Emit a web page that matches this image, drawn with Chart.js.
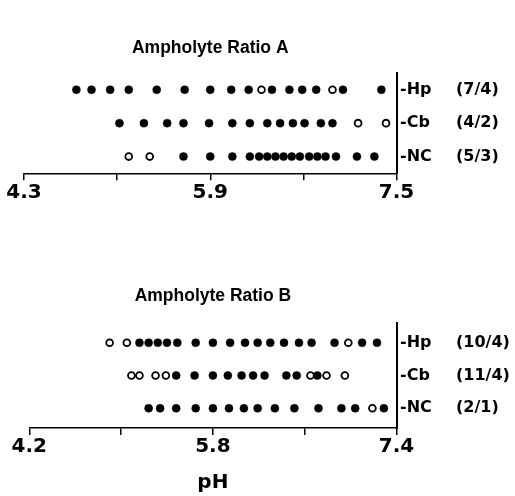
<!DOCTYPE html>
<html>
<head>
<meta charset="utf-8">
<script src="https://cdn.jsdelivr.net/npm/chart.js@4.4.0/dist/chart.umd.min.js"></script>
<style>
    body { margin: 0; background: #fff; }
    #wrap { position: relative; width: 515px; height: 496px; }
    canvas { position: absolute; left: 0; }
</style>
</head>
<body>
<div id="wrap">
    <canvas id="chartA" width="515" height="248" style="top:0px"></canvas>
    <canvas id="chartB" width="515" height="248" style="top:248px"></canvas>
</div>
<script>
//rows go bottom -> top
const rowNames = ['NC', 'Cb', 'Hp'];

//pH axis ticks
const ticksA = [4.3, 5.1, 5.9, 6.7, 7.5];
const tickLabelsA = ['4.3', '', '5.9', '', '7.5'];
const ticksB = [4.2, 5.0, 5.8, 6.6, 7.4];
const tickLabelsB = ['4.2', '', '5.8', '', '7.4'];

//ratios printed right of each row (NC, Cb, Hp)
const ratiosA = ['(5/3)', '(4/2)', '(7/4)'];
const ratiosB = ['(2/1)', '(11/4)', '(10/4)'];

//Ampholyte Ratio A - pH of bands, filled and open circles
const hpFilledA = [4.75, 4.88, 5.04, 5.20, 5.44, 5.68, 5.90, 6.08, 6.23, 6.43, 6.58, 6.69, 6.81, 7.04, 7.37];
const hpOpenA = [6.34, 6.95];
const cbFilledA = [5.12, 5.33, 5.53, 5.67, 5.89, 6.09, 6.24, 6.39, 6.50, 6.61, 6.71, 6.85, 6.95];
const cbOpenA = [7.17, 7.41];
const ncFilledA = [5.67, 5.90, 6.09, 6.24, 6.32, 6.39, 6.46, 6.53, 6.60, 6.67, 6.75, 6.82, 6.89, 6.98, 7.16, 7.31];
const ncOpenA = [5.20, 5.38];

//Ampholyte Ratio B
const hpFilledB = [5.16, 5.24, 5.32, 5.40, 5.49, 5.65, 5.80, 5.95, 6.08, 6.19, 6.30, 6.42, 6.55, 6.66, 6.86, 7.10, 7.23];
const hpOpenB = [4.90, 5.05, 6.98];
const cbFilledB = [5.48, 5.64, 5.80, 5.93, 6.05, 6.15, 6.25, 6.44, 6.53, 6.71];
const cbOpenB = [5.09, 5.16, 5.30, 5.39, 6.65, 6.79, 6.95];
const ncFilledB = [5.24, 5.34, 5.48, 5.65, 5.80, 5.94, 6.07, 6.19, 6.34, 6.51, 6.72, 6.92, 7.04, 7.29];
const ncOpenB = [7.19];

Chart.defaults.font.family = '"DejaVu Sans", sans-serif';
Chart.defaults.color = '#000';

BuildChart('chartA',
{
    title: 'Ampholyte Ratio A',
    filled: [ncFilledA, cbFilledA, hpFilledA],
    open: [ncOpenA, cbOpenA, hpOpenA],
    ticks: ticksA,
    tickLabels: tickLabelsA,
    ratios: ratiosA,
    yMin: -0.5,
    yMax: 2.5,
    left: 24,
    top: 73,
    axisHeight: 74.7,
    showAxisTitle: false
});

BuildChart('chartB',
{
    title: 'Ampholyte Ratio B',
    filled: [ncFilledB, cbFilledB, hpFilledB],
    open: [ncOpenB, cbOpenB, hpOpenB],
    ticks: ticksB,
    tickLabels: tickLabelsB,
    ratios: ratiosB,
    yMin: -0.6,
    yMax: 2.6,
    left: 29.3,
    top: 75,
    axisHeight: 68,
    showAxisTitle: true
});

function ToPoints (_rows)
{
    var points = [];
    for (var i = 0; i < _rows.length; i++)
    {
        _rows[i].forEach(v => points.push({ x: v, y: i }));
    }
    return points;
}

//title centred over the plot area + ratio labels on the right
function TextPlugin (_title, _ratios)
{
    return {
        id: 'panelText',
        afterDraw: function (chart)
        {
            const ctx = chart.ctx;
            const area = chart.chartArea;
            const yScale = chart.scales.y;
            ctx.save();
            ctx.fillStyle = '#000';
            ctx.textBaseline = 'middle';

            ctx.font = 'bold 17.5px "Liberation Sans", Arial, sans-serif';
            ctx.textAlign = 'center';
            ctx.fillText(_title, (area.left + area.right) / 2, 48);

            ctx.font = 'bold 16px "DejaVu Sans"';
            ctx.textAlign = 'left';
            for (var i = 0; i < _ratios.length; i++)
            {
                ctx.fillText(_ratios[i], 456, yScale.getPixelForValue(i));
            }
            ctx.restore();
        }
    };
}

function BuildChart (_id, _p)
{
    const data =
    {
        datasets:
        [
            {
                data: ToPoints(_p.filled),
                backgroundColor: '#000',
                borderColor: '#000',
                borderWidth: 0.5,
                pointRadius: 4
            },
            {
                data: ToPoints(_p.open),
                backgroundColor: '#fff',
                borderColor: '#000',
                borderWidth: 1.8,
                pointRadius: 3.4
            }
        ]
    };

    const config =
    {
        type: 'scatter',
        data: data,
        options:
        {
            responsive: false,
            animation: false,
            layout: { padding: { left: _p.left, right: 0, top: _p.top, bottom: 0 } },
            plugins:
            {
                legend: { display: false },
                tooltip: { enabled: false }
            },
            scales:
            {
                x:
                {
                    type: 'linear',
                    min: _p.ticks[0],
                    max: _p.ticks[_p.ticks.length - 1],
                    afterBuildTicks: function (scale)
                    {
                        scale.ticks = _p.ticks.map(v => ({ value: v }));
                    },
                    afterFit: function (scale)
                    {
                        scale.height = _p.axisHeight;
                    },
                    grid:
                    {
                        drawOnChartArea: false,
                        drawTicks: true,
                        tickLength: 7,
                        color: '#000',
                        lineWidth: 1.5
                    },
                    border: { display: true, color: '#000', width: 1.5 },
                    ticks:
                    {
                        autoSkip: false,
                        maxRotation: 0,
                        padding: 0,
                        font: { size: 20, weight: 'bold' },
                        callback: function (value, index) { return _p.tickLabels[index]; }
                    },
                    title:
                    {
                        display: _p.showAxisTitle,
                        text: 'pH',
                        font: { size: 20, weight: 'bold' },
                        padding: { top: 0, bottom: 1 }
                    }
                },
                y:
                {
                    type: 'linear',
                    position: 'right',
                    min: _p.yMin,
                    max: _p.yMax,
                    afterBuildTicks: function (scale)
                    {
                        scale.ticks = rowNames.map((n, i) => ({ value: i }));
                    },
                    afterFit: function (scale)
                    {
                        scale.width = 515 - 396.5;
                    },
                    grid: { display: false, drawTicks: false },
                    border: { display: true, color: '#000', width: 2 },
                    ticks:
                    {
                        padding: 3.5,
                        font: { size: 16, weight: 'bold' },
                        callback: function (value) { return '-' + rowNames[value]; }
                    }
                }
            }
        },
        plugins: [TextPlugin(_p.title, _p.ratios)]
    };

    const ctx = document.getElementById(_id).getContext('2d');
    if (ctx) {
        new Chart(ctx, config);
    } else {
        console.error('Canvas ' + _id + ' not found.');
    }
}
</script>
</body>
</html>
